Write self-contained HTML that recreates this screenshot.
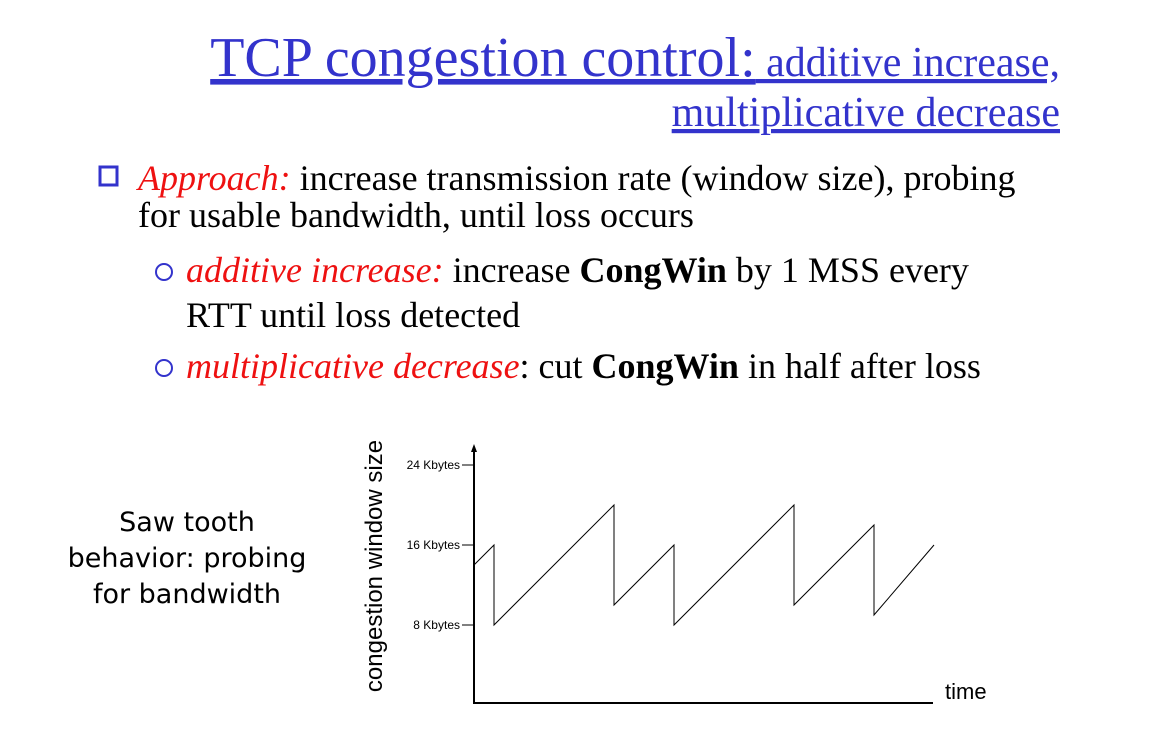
<!DOCTYPE html>
<html><head><meta charset="utf-8"><style>
html,body{margin:0;padding:0;background:#fff;}
svg{display:block;}
.serif{font-family:"Liberation Serif",serif;}
.sans{font-family:"Liberation Sans",sans-serif;}
</style></head><body>
<svg id="slide" width="1160" height="731" viewBox="0 0 1160 731">
<rect width="1160" height="731" fill="#fff"/>
<g class="serif" fill="#3333cc">
<text x="1060" y="76" text-anchor="end" text-decoration="underline"><tspan font-size="56">TCP congestion control:</tspan><tspan font-size="42"> additive increase,</tspan></text>
<text x="1060" y="126" text-anchor="end" font-size="42" text-decoration="underline">multiplicative decrease</text>
</g>
<g class="serif" font-size="36">
<rect x="100" y="167" width="17" height="18" fill="#fff" stroke="#3333cc" stroke-width="3"/>
<text x="138" y="190"><tspan fill="#ee1111" font-style="italic">Approach:</tspan><tspan> increase transmission rate (window size), probing</tspan></text>
<text x="138" y="227">for usable bandwidth, until loss occurs</text>
<circle cx="164" cy="272" r="8" fill="none" stroke="#3333cc" stroke-width="2"/>
<text x="186" y="282"><tspan fill="#ee1111" font-style="italic">additive increase:</tspan><tspan> increase  </tspan><tspan font-weight="bold">CongWin</tspan><tspan> by 1 MSS every</tspan></text>
<text x="186" y="327">RTT until loss detected</text>
<circle cx="164" cy="368" r="8" fill="none" stroke="#3333cc" stroke-width="2"/>
<text x="186" y="378"><tspan fill="#ee1111" font-style="italic">multiplicative decrease</tspan><tspan>: cut </tspan><tspan font-weight="bold">CongWin</tspan><tspan> in half after loss</tspan></text>
</g>
<g font-family="'DejaVu Sans',sans-serif" font-size="27" text-anchor="middle" fill="#000">
<text x="187" y="531">Saw tooth</text>
<text x="187" y="567">behavior: probing</text>
<text x="187" y="603">for bandwidth</text>
</g>
<g id="chart"></g>
</svg>
<script>
const times = [0, 1, 1, 7, 7, 10, 10, 16, 16, 20, 20, 23];
const windowKB = [14, 16, 8, 20, 10, 16, 8, 20, 10, 18, 9, 16];
const tickValues = [8, 16, 24];
const tickLabels = ["8 Kbytes", "16 Kbytes", "24 Kbytes"];

const NS = "http://www.w3.org/2000/svg";
const g = document.getElementById("chart");
const x0 = 474, pxPerT = 20;
const yOf = v => 545 - (v - 16) * 10;
const xOf = t => x0 + t * pxPerT;
function mk(tag, attrs){const e=document.createElementNS(NS,tag);for(const k in attrs)e.setAttribute(k,attrs[k]);g.appendChild(e);return e;}

const yAxis = mk("line",{x1:x0,y1:450,x2:x0,y2:703,stroke:"#000","stroke-width":2});


const arrow = mk("path",{d:`M${x0-3},452 L${x0},444 L${x0+3},452 Z`,fill:"#000"});


const xAxis = mk("line",{x1:x0-1,y1:703,x2:933,y2:703,stroke:"#000","stroke-width":2});



tickValues.forEach((v,i)=>{
  const tk = mk("line",{x1:x0-12,y1:yOf(v),x2:x0,y2:yOf(v),stroke:"#000","stroke-width":1});
  
  
  const lb = mk("text",{x:x0-14,y:yOf(v)+4,"text-anchor":"end","font-family":"Liberation Sans, sans-serif","font-size":12});
  lb.textContent = tickLabels[i];
  
  
});

const yt = mk("text",{x:0,y:0,transform:"translate(382,566) rotate(-90)","text-anchor":"middle","font-family":"Liberation Sans, sans-serif","font-size":24});
yt.textContent = "congestion window size";


const xt = mk("text",{x:945,y:699,"font-family":"Liberation Sans, sans-serif","font-size":22});
xt.textContent = "time";



const pts = times.map((t,i)=>xOf(t)+","+yOf(windowKB[i])).join(" ");
const line = mk("polyline",{points:pts,fill:"none",stroke:"#000","stroke-width":1});


</script>
</body></html>
